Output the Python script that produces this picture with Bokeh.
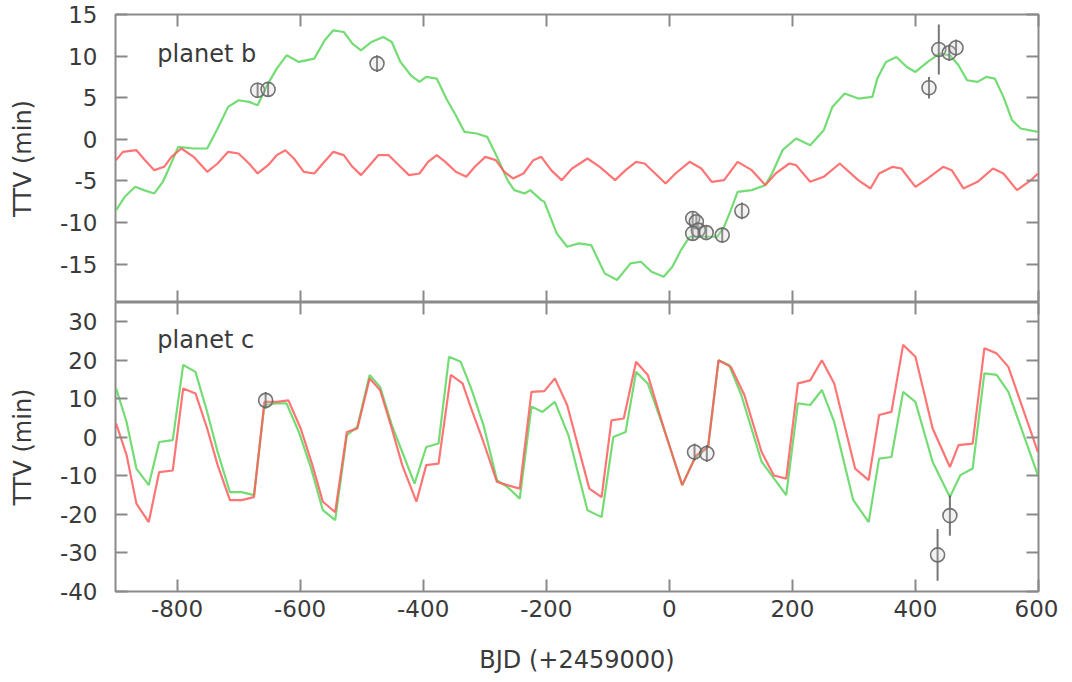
from bokeh.plotting import figure
from bokeh.layouts import column
from bokeh.models import LinearAxis, FixedTicker, Range1d, Label
from bokeh.embed import file_html
from bokeh.resources import INLINE

# ---------------- data ----------------
# planet b : model curves (green / red) and observations
b_green_x = [-899, -885, -868, -854, -837, -823, -812, -798, -773, -751, -734, -717, -700, -683, -669,
             -655, -638, -622, -602, -577, -560, -546, -529, -515, -501, -484, -465, -451, -437, -420,
             -406, -395, -378, -361, -347, -333, -313, -296, -280, -263, -252, -235, -226, -208,
             -203, -183, -166, -147, -127, -105, -85, -63, -46, -29, -9, 5, 19, 33, 50, 78, 89,
             100, 111, 134, 156, 167, 184, 206, 229, 251, 265, 285, 307, 330, 338, 352, 369, 386,
             400, 420, 439, 456, 470, 484, 501, 515, 529, 543, 557, 571, 599]
b_green_y = [-8.5, -6.9, -5.7, -6.1, -6.5, -5.1, -3.3, -0.9, -1.1, -1.1, 1.3, 3.9, 4.7, 4.5, 4.1,
             6.3, 8.5, 10.1, 9.3, 9.7, 11.9, 13.1, 12.9, 11.5, 10.7, 11.7, 12.3, 11.7, 9.3, 7.7,
             6.9, 7.5, 7.3, 4.7, 2.9, 0.9, 0.7, 0.3, -2.1, -4.9, -6.1, -6.5, -6.1, -7.3,
             -7.5, -11.3, -12.9, -12.5, -12.7, -16.1, -16.9, -14.9, -14.7, -15.9, -16.5, -15.3, -13.3,
             -11.7, -11.7, -11.7, -10.5, -8.5, -6.3, -6.1, -5.5, -4.1, -1.3, 0.1, -0.7, 1.1, 3.9, 5.5,
             4.9, 5.1, 7.3, 9.3, 9.9, 8.7, 8.1, 9.3, 10.3, 10.1, 8.9, 7.1, 6.9, 7.5, 7.3, 5.1, 2.3,
             1.3, 0.9]
b_red_x = [-899, -888, -866, -852, -837, -821, -809, -793, -773, -751, -734, -717, -700, -683, -669,
           -652, -638, -624, -610, -594, -577, -563, -546, -529, -515, -501, -487, -473, -456, -437,
           -423, -406, -392, -378, -364, -347, -330, -316, -299, -282, -268, -254, -237, -221, -208,
           -192, -175, -158, -133, -113, -88, -71, -54, -40, -23, -6, 10, 33, 52, 69, 89, 111,
           134, 156, 173, 195, 206, 229, 251, 277, 307, 327, 341, 363, 377, 400, 420, 445, 459,
           478, 501, 526, 543, 565, 588, 599]
b_red_y = [-2.5, -1.5, -1.3, -2.5, -3.7, -3.3, -2.1, -1.1, -2.1, -3.9, -2.9, -1.5, -1.7, -2.9, -4.1,
           -3.1, -1.9, -1.3, -2.3, -3.9, -4.1, -2.9, -1.5, -1.9, -3.3, -4.3, -3.1, -1.9, -1.9, -3.3,
           -4.3, -4.1, -2.7, -1.9, -2.7, -3.9, -4.5, -3.3, -2.1, -2.5, -3.9, -4.7, -4.1, -2.5, -2.1,
           -3.7, -4.9, -3.5, -2.3, -3.3, -4.9, -3.7, -2.7, -2.9, -4.1, -5.3, -4.1, -2.7, -3.5, -5.1,
           -4.9, -2.7, -3.7, -5.5, -4.1, -2.9, -3.1, -5.1, -4.5, -2.9, -4.9, -5.9, -4.1, -3.3, -3.5,
           -5.7, -4.7, -3.3, -3.7, -5.9, -5.1, -3.5, -4.1, -6.1, -4.9, -4.1]
b_obs_x = [-669, -652, -475, 38, 44, 47, 38, 60, 86, 118, 422, 438, 455, 466]
b_obs_y = [5.9, 6.0, 9.1, -9.5, -9.9, -10.9, -11.3, -11.2, -11.5, -8.6, 6.2, 10.8, 10.4, 11.0]
b_obs_err = [0.9, 0.9, 1.0, 0.8, 0.8, 0.8, 0.8, 0.8, 0.9, 1.0, 1.3, 3.0, 1.0, 1.0]

# planet c : model curves (green / red) and observations
c_green_x = [-899, -882, -866, -846, -829, -807, -790, -770, -751, -734, -714, -695, -675, -658, -638,
             -622, -602, -582, -563, -543, -524, -507, -487, -470, -451, -434, -414, -395, -375, -358,
             -339, -322, -302, -280, -263, -243, -224, -206, -186, -164, -133, -110, -91, -71, -54,
             -35, -7, 21, 41, 63, 80, 97, 117, 150, 190, 209, 229, 248, 268, 299, 324, 341, 361,
             380, 400, 428, 456, 473, 493, 512, 532, 551, 599]
c_green_y = [12.7, 4.0, -8.1, -12.4, -1.2, -0.7, 18.8, 17.0, 6.6, -3.8, -14.2, -14.2, -15.0, 8.4, 8.8,
             8.8, 1.4, -8.1, -18.9, -21.5, 0.6, 2.7, 16.2, 13.1, 3.2, -3.8, -12.0, -2.5, -1.6, 20.9,
             19.6, 12.7, 3.2, -11.1, -12.9, -15.9, 8.0, 6.6, 9.2, 0.6, -18.9, -20.7, 0.1, 1.4, 17.0,
             14.0, 1.4, -12.4, -5.5, -2.5, 20.0, 18.8, 11.0, -6.3, -15.0, 8.8, 8.4, 12.3, 4.0, -16.3,
             -22.0, -5.5, -5.1, 11.8, 9.2, -6.4, -15.5, -9.8, -8.1, 16.6, 16.2, 11.8, -9.8]
c_red_x = [-899, -882, -866, -846, -829, -807, -790, -770, -751, -734, -714, -695, -675, -658, -638,
           -619, -599, -580, -563, -543, -524, -507, -487, -470, -451, -434, -411, -395, -375, -355,
           -336, -322, -302, -280, -263, -243, -224, -203, -186, -166, -130, -110, -94, -74, -54,
           -35, -7, 21, 44, 63, 80, 100, 122, 150, 170, 190, 209, 229, 248, 268, 302, 324, 341,
           361, 380, 400, 428, 456, 470, 493, 512, 532, 551, 599]
c_red_y = [3.6, -4.6, -17.2, -22.0, -9.0, -8.6, 12.7, 11.4, 2.3, -7.2, -16.3, -16.3, -15.5, 9.2, 9.2,
           9.6, 2.3, -7.2, -16.7, -19.4, 1.4, 2.3, 15.3, 12.3, 2.3, -7.2, -16.7, -7.2, -6.8, 16.2,
           14.0, 7.5, -1.2, -11.6, -12.4, -13.3, 11.8, 12.0, 15.3, 8.4, -13.3, -15.5, 4.4, 4.9, 19.6,
           16.2, 1.4, -12.4, -4.6, -2.5, 20.0, 18.3, 11.0, -3.8, -9.9, -10.7, 14.0, 14.8, 20.0, 14.0,
           -8.1, -11.1, 5.8, 6.6, 24.0, 20.9, 2.3, -7.7, -2.0, -1.6, 23.1, 21.8, 18.3, -3.8]
c_obs_x = [-656, 41, 61, 436, 456]
c_obs_y = [9.6, -3.8, -4.2, -30.5, -20.3]
c_obs_err = [2.2, 2.2, 2.2, 6.7, 5.2]

b_yticks = [-15, -10, -5, 0, 5, 10, 15]
c_yticks = [-40, -30, -20, -10, 0, 10, 20, 30]
xticks = [-800, -600, -400, -200, 0, 200, 400, 600]

# ---------------- style ----------------
FONT = "DejaVu Sans"
FRAME = "#8a8a8a"
TXT = "#3a3a3a"
GREEN = "#5cd65c"
RED = "#ff5c5c"


def hyphen_labels(ticks):
    return {t: str(t) for t in ticks}


def blank_labels(ticks):
    return {t: "" for t in ticks}


def make_panel(height, y_range, yticks, show_xlabels, top_border, bottom_border):
    p = figure(width=1058, height=height, x_range=Range1d(-900, 600), y_range=Range1d(*y_range),
               output_backend="svg", toolbar_location=None,
               min_border_left=115, min_border_right=20,
               min_border_top=top_border, min_border_bottom=bottom_border)
    p.grid.grid_line_color = None
    p.outline_line_color = FRAME
    p.outline_line_width = 2
    p.outline_line_alpha = 1
    p.background_fill_color = "white"
    p.border_fill_color = "white"

    p.yaxis.ticker = FixedTicker(ticks=yticks)
    p.xaxis.ticker = FixedTicker(ticks=xticks)
    p.add_layout(LinearAxis(ticker=FixedTicker(ticks=yticks),
                            major_label_overrides=blank_labels(yticks)), "right")
    p.add_layout(LinearAxis(ticker=FixedTicker(ticks=xticks),
                            major_label_overrides=blank_labels(xticks)), "above")

    for ax in p.axis:
        ax.axis_line_color = None
        ax.major_tick_line_color = FRAME
        ax.major_tick_line_width = 2
        ax.major_tick_in = 12
        ax.major_tick_out = 0
        ax.minor_tick_line_color = None
        ax.major_label_text_font = FONT
        ax.major_label_text_font_size = "1px"
        ax.major_label_standoff = 0

    yl = p.left[0]
    yl.major_label_overrides = hyphen_labels(yticks)
    yl.major_label_text_font_size = "23px"
    yl.major_label_text_color = TXT
    yl.major_label_standoff = 18
    yl.axis_label = "TTV (min)"
    yl.axis_label_text_font = FONT
    yl.axis_label_text_font_size = "24px"
    yl.axis_label_text_font_style = "normal"
    yl.axis_label_text_color = TXT
    yl.axis_label_standoff = 20

    xl = p.below[0]
    if show_xlabels:
        xl.major_label_overrides = hyphen_labels(xticks)
        xl.major_label_text_font_size = "23px"
        xl.major_label_text_color = TXT
        xl.major_label_standoff = 8
        xl.axis_label = "BJD (+2459000)"
        xl.axis_label_text_font = FONT
        xl.axis_label_text_font_size = "24px"
        xl.axis_label_text_font_style = "normal"
        xl.axis_label_text_color = TXT
        xl.axis_label_standoff = 26
    else:
        xl.major_label_overrides = blank_labels(xticks)
    return p


def draw(p, gx, gy, rx, ry, ox, oy, oe, name, lx, ly):
    p.line(gx, gy, line_color=GREEN, line_width=2.2, line_alpha=0.85)
    p.line(rx, ry, line_color=RED, line_width=2.2, line_alpha=0.85)
    lo = [y - e for y, e in zip(oy, oe)]
    hi = [y + e for y, e in zip(oy, oe)]
    p.segment(x0=ox, y0=lo, x1=ox, y1=hi, line_color="#555555", line_width=2, line_alpha=0.8)
    p.scatter(ox, oy, marker="circle", size=14, fill_color="#cccccc", fill_alpha=0.25,
              line_color="#666666", line_width=1.6, line_alpha=0.9)
    p.add_layout(Label(x=lx, y=ly, text=name, text_font=FONT, text_font_size="24px",
                       text_color=TXT, text_baseline="alphabetic"))


p1 = make_panel(302, (-19.6, 15), b_yticks, False, 14, 0)
draw(p1, b_green_x, b_green_y, b_red_x, b_red_y, b_obs_x, b_obs_y, b_obs_err, "planet b", -832, 10.3)

p2 = make_panel(376, (-40, 35), c_yticks, True, 0, 87)
draw(p2, c_green_x, c_green_y, c_red_x, c_red_y, c_obs_x, c_obs_y, c_obs_err, "planet c", -832, 25.3)

layout = column(p1, p2, spacing=0)
open("out.html", "w").write(file_html(layout, INLINE))
